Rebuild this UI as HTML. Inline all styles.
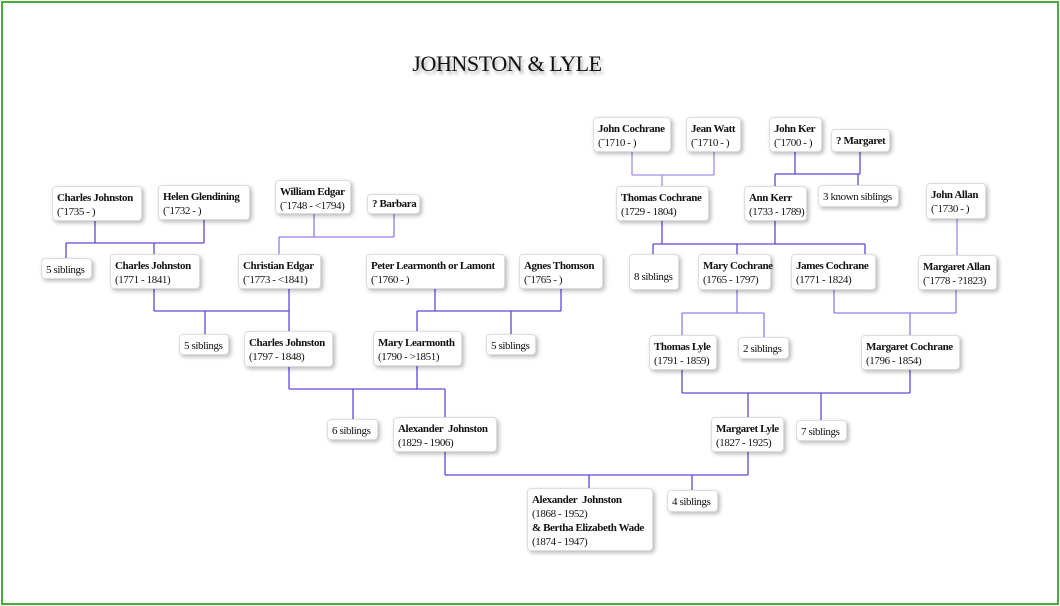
<!DOCTYPE html>
<html><head><meta charset="utf-8"><style>
html,body{margin:0;padding:0;background:#fff}
#c{position:relative;width:1060px;height:606px;overflow:hidden;font-family:"Liberation Serif",serif;color:#111}
#frame{position:absolute;left:1px;top:1px;width:1054px;height:600px;border:2px solid #4aaa3a}
#t{position:absolute;left:0;width:1014px;top:51px;text-align:center;font-size:22px;letter-spacing:-0.4px;text-shadow:2px 3px 3px rgba(0,0,0,.35)}
.b{position:absolute;box-sizing:border-box;background:#fff;border:1px solid #ddd;border-radius:4px;box-shadow:2px 2px 4px rgba(0,0,0,.28);padding:4px 4px 0 4px;font-size:11px;line-height:14px;white-space:nowrap;letter-spacing:-0.4px}
.b b{font-weight:bold}
.s{padding-top:4px}
svg{position:absolute;left:0;top:0}
</style></head><body><div id="c">
<div id="frame"></div>
<div id="t">JOHNSTON &amp; LYLE</div>
<svg width="1060" height="606" fill="none" stroke="#5b4bd6" stroke-width="1.3">
<path d="M95 221V243M204 220V243M66 243H204M66 243V258M154 243V254"/>
<path d="M314 214V237M394 214V237M279 237H394M279 237V254" stroke="#8d80e6"/>
<path d="M154 289V311M289 289V311M154 311H289M205 311V334M289 311V331"/>
<path d="M435 289V311M561 289V311M417 311H561M417 311V331M511 311V334"/>
<path d="M289 367V389M417 366V389M289 389H445M353 389V419M445 389V417"/>
<path d="M445 452V475M748 452V475M445 475H748M589 475V488M692 475V490"/>
<path d="M632 152V175M714 152V175M632 175H714M662 175V186" stroke="#9d90e8"/>
<path d="M795 152V174M860 152V174M775 174H860M775 174V186M858 174V185"/>
<path d="M662 221V244M775 221V244M653 244H865M653 244V254M737 244V254M865 244V254"/>
<path d="M957 219V255" stroke="#9d90e8"/>
<path d="M737 290V313M682 313H764M682 313V335M764 313V337" stroke="#8d80e6"/>
<path d="M834 290V313M956 290V313M834 313H956M910 313V335" stroke="#8d80e6"/>
<path d="M682 370V393M910 370V393M682 393H910M748 393V417M821 393V420"/>
</svg>
<div class="b" style="left:52px;top:186px;width:90px;height:35px"><b>Charles Johnston</b><br>(˜1735 - )</div>
<div class="b" style="left:158px;top:185px;width:92px;height:35px"><b>Helen Glendining</b><br>(˜1732 - )</div>
<div class="b" style="left:275px;top:180px;width:76px;height:34px"><b>William Edgar</b><br>(˜1748 - &lt;1794)</div>
<div class="b" style="left:367px;top:194px;width:53px;height:20px;padding-top:2px"><b>? Barbara</b></div>
<div class="b s" style="left:41px;top:258px;width:51px;height:21px">5 siblings</div>
<div class="b" style="left:110px;top:254px;width:90px;height:35px"><b>Charles Johnston</b><br>(1771 - 1841)</div>
<div class="b" style="left:238px;top:254px;width:83px;height:35px"><b>Christian Edgar</b><br>(˜1773 - &lt;1841)</div>
<div class="b" style="left:366px;top:254px;width:139px;height:35px"><b>Peter Learmonth or Lamont</b><br>(˜1760 - )</div>
<div class="b" style="left:519px;top:254px;width:84px;height:35px"><b>Agnes Thomson</b><br>(˜1765 - )</div>
<div class="b s" style="left:179px;top:334px;width:50px;height:21px">5 siblings</div>
<div class="b" style="left:244px;top:331px;width:89px;height:36px"><b>Charles Johnston</b><br>(1797 - 1848)</div>
<div class="b" style="left:373px;top:331px;width:89px;height:35px"><b>Mary Learmonth</b><br>(1790 - &gt;1851)</div>
<div class="b s" style="left:486px;top:334px;width:50px;height:21px">5 siblings</div>
<div class="b s" style="left:327px;top:419px;width:51px;height:21px">6 siblings</div>
<div class="b" style="left:393px;top:417px;width:104px;height:35px"><b>Alexander&nbsp; Johnston</b><br>(1829 - 1906)</div>
<div class="b" style="left:527px;top:488px;width:126px;height:63px"><b>Alexander&nbsp; Johnston</b><br>(1868 - 1952)<br><b>&amp; Bertha Elizabeth Wade</b><br>(1874 - 1947)</div>
<div class="b s" style="left:667px;top:490px;width:51px;height:22px">4 siblings</div>
<div class="b" style="left:711px;top:417px;width:73px;height:35px"><b>Margaret Lyle</b><br>(1827 - 1925)</div>
<div class="b s" style="left:796px;top:420px;width:51px;height:21px">7 siblings</div>
<div class="b" style="left:649px;top:335px;width:68px;height:35px"><b>Thomas Lyle</b><br>(1791 - 1859)</div>
<div class="b s" style="left:738px;top:337px;width:51px;height:22px">2 siblings</div>
<div class="b" style="left:861px;top:335px;width:99px;height:35px"><b>Margaret Cochrane</b><br>(1796 - 1854)</div>
<div class="b" style="left:593px;top:117px;width:78px;height:35px"><b>John Cochrane</b><br>(˜1710 - )</div>
<div class="b" style="left:686px;top:117px;width:55px;height:35px"><b>Jean Watt</b><br>(˜1710 - )</div>
<div class="b" style="left:769px;top:117px;width:53px;height:35px"><b>John Ker</b><br>(˜1700 - )</div>
<div class="b" style="left:831px;top:129px;width:59px;height:23px"><b>? Margaret</b></div>
<div class="b" style="left:616px;top:186px;width:93px;height:35px"><b>Thomas Cochrane</b><br>(1729 - 1804)</div>
<div class="b" style="left:744px;top:186px;width:63px;height:35px"><b>Ann Kerr</b><br>(1733 - 1789)</div>
<div class="b s" style="left:818px;top:185px;width:81px;height:22px">3 known siblings</div>
<div class="b" style="left:926px;top:183px;width:60px;height:36px"><b>John Allan</b><br>(˜1730 - )</div>
<div class="b" style="left:629px;top:254px;width:50px;height:36px;padding-top:15px">8 siblings</div>
<div class="b" style="left:698px;top:254px;width:73px;height:36px"><b>Mary Cochrane</b><br>(1765 - 1797)</div>
<div class="b" style="left:791px;top:254px;width:85px;height:36px"><b>James Cochrane</b><br>(1771 - 1824)</div>
<div class="b" style="left:918px;top:255px;width:79px;height:35px"><b>Margaret Allan</b><br>(˜1778 - ?1823)</div>
</div></body></html>
